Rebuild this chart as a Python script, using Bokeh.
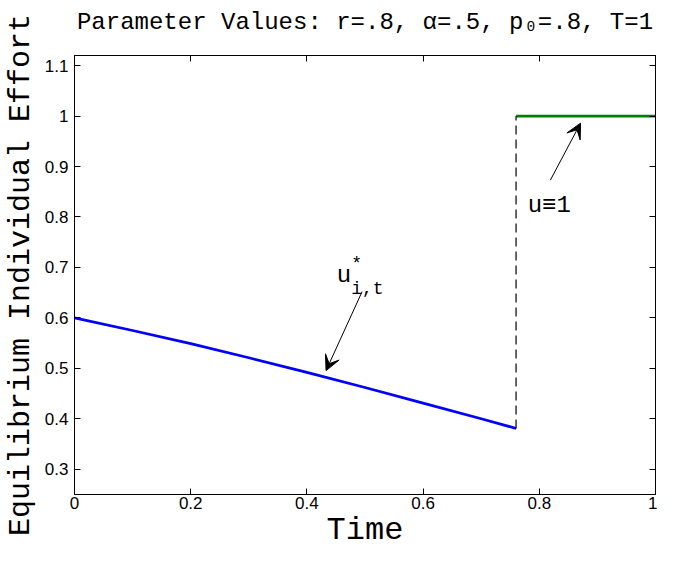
from bokeh.plotting import figure
from bokeh.models import (Range1d, FixedTicker, LinearAxis, Label, Arrow, VeeHead,
                          CustomJSTickFormatter)
from bokeh.embed import file_html
from bokeh.resources import INLINE

# ---------------- data ----------------
eq_time = [0.0, 0.1, 0.2, 0.3, 0.4, 0.5, 0.6, 0.7, 0.76]
eq_effort = [0.600, 0.575, 0.549, 0.521, 0.492, 0.462, 0.431, 0.400, 0.381]

switch_time = 0.76
full_time = [0.76, 1.0]
full_effort = [1.0, 1.0]

x_ticks = [0.0, 0.2, 0.4, 0.6, 0.8, 1.0]
x_tick_labels = ["0", "0.2", "0.4", "0.6", "0.8", "1"]
y_ticks = [0.3, 0.4, 0.5, 0.6, 0.7, 0.8, 0.9, 1.0, 1.1]
y_tick_labels = ["0.3", "0.4", "0.5", "0.6", "0.7", "0.8", "0.9", "1", "1.1"]

title_text = "Parameter Values: r=.8, \u03b1=.5, p\u2080=.8, T=1"
x_title = "Time"
y_title = "Equilibrium Individual Effort"

# ---------------- figure ----------------
MONO = "Liberation Mono"
SANS = "Liberation Sans"

p = figure(width=657, height=551, output_backend="svg", toolbar_location=None,
           title=None,
           x_range=Range1d(0, 1), y_range=Range1d(0.25, 1.12),
           min_border_left=74, min_border_right=2, min_border_top=55,
           min_border_bottom=20)
p.grid.visible = False
p.outline_line_color = "black"
p.outline_line_width = 1
p.background_fill_color = "white"
p.border_fill_color = "white"


def style_axis(ax, ticks, labels):
    ax.ticker = FixedTicker(ticks=ticks)
    ax.axis_line_color = "black"
    ax.major_tick_line_color = "black"
    ax.major_tick_in = 6
    ax.major_tick_out = 0
    ax.minor_tick_in = 0
    ax.minor_tick_out = 0
    ax.major_label_text_font = SANS
    ax.major_label_text_font_size = "17px"
    ax.major_label_text_color = "black"
    ax.major_label_standoff = 6
    if labels is not None:
        ax.major_label_overrides = {t: l for t, l in zip(ticks, labels)}


def style_label(ax, text, size, standoff):
    ax.axis_label = text
    ax.axis_label_text_font = MONO
    ax.axis_label_text_font_size = size
    ax.axis_label_text_font_style = "normal"
    ax.axis_label_text_color = "black"
    ax.axis_label_standoff = standoff


style_axis(p.xaxis[0], x_ticks, x_tick_labels)
style_axis(p.yaxis[0], y_ticks, y_tick_labels)
p.xaxis[0].major_label_standoff = 2
style_label(p.xaxis[0], x_title, "32px", 0)
style_label(p.yaxis[0], y_title, "30px", 4)

blank = CustomJSTickFormatter(code="return ''")
top_ax = LinearAxis(formatter=blank)
right_ax = LinearAxis(formatter=blank)
style_axis(top_ax, x_ticks, None)
style_axis(right_ax, y_ticks, None)
for ax in (top_ax, right_ax):
    ax.major_label_standoff = 0
    ax.major_label_text_font_size = "1px"
# chart title, placed above the frame
style_label(top_ax, title_text, "24px", 20)
p.add_layout(top_ax, "above")
p.add_layout(right_ax, "right")

# ---------------- lines ----------------
p.line(eq_time, eq_effort, line_color="#0000ff", line_width=2.7)
p.line(full_time, full_effort, line_color="#008000", line_width=2.7)
p.line([switch_time, switch_time], [eq_effort[-1], full_effort[0]],
       line_color="black", line_width=1.2, line_dash="9 5")

# ---------------- annotations ----------------
A_SIZE = 24
ux, uy = 0.4515, 0.6836
p.add_layout(Label(x=ux, y=uy, text="u", text_font=MONO, text_font_size=f"{A_SIZE}px",
                   text_baseline="alphabetic", text_color="black"))
p.add_layout(Label(x=ux, y=uy, x_offset=0.6 * A_SIZE, y_offset=12, text="*",
                   text_font=MONO, text_font_size="18px", text_baseline="alphabetic",
                   text_color="black"))
p.add_layout(Label(x=ux, y=uy, x_offset=0.6 * A_SIZE, y_offset=-13, text="i,t",
                   text_font=MONO, text_font_size="18px", text_baseline="alphabetic",
                   text_color="black"))
p.add_layout(Arrow(end=VeeHead(size=15, fill_color="black", line_color="black"),
                   x_start=0.495, y_start=0.652, x_end=0.433, y_end=0.4956,
                   line_color="black", line_width=1))

p.add_layout(Label(x=0.780, y=0.8237, text="u\u22611", text_font=MONO,
                   text_font_size=f"{A_SIZE}px", text_baseline="alphabetic",
                   text_color="black"))
p.add_layout(Arrow(end=VeeHead(size=15, fill_color="black", line_color="black"),
                   x_start=0.819, y_start=0.8729, x_end=0.871, y_end=0.9859,
                   line_color="black", line_width=1))

open("out.html", "w").write(file_html(p, INLINE))
